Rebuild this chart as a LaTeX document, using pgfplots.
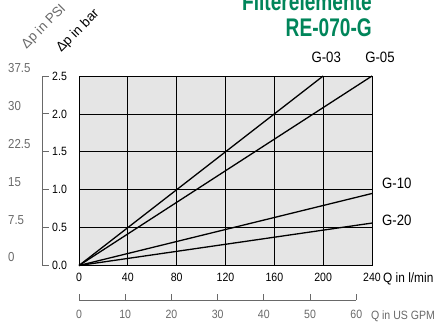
\documentclass[border=0pt]{standalone}
\usepackage{pgfplots}
\pgfplotsset{compat=1.18}
\usepackage{fontspec}
\setmainfont{Liberation Sans}[FakeStretch=0.88]
\newfontfamily\titlefont{Liberation Sans}[FakeStretch=0.75]
\newfontfamily\plainfont{Liberation Sans}
\definecolor{titlegreen}{RGB}{0,133,90}
\definecolor{scalegray}{RGB}{105,105,105}

\begin{document}
\begin{tikzpicture}[x=1pt,y=1pt]
\useasboundingbox (0,0) rectangle (441,327);

% title
\node[anchor=base east, inner sep=0pt, text=titlegreen, font=\titlefont\bfseries\fontsize{25.5}{28}\selectfont] at (372,316) {Filterelemente};
\node[anchor=base east, inner sep=0pt, text=titlegreen, font=\titlefont\bfseries\fontsize{25.5}{28}\selectfont] at (372,290) {RE-070-G};

% axis captions
\node[anchor=center, inner sep=0pt, rotate=45, text=scalegray, font=\plainfont\fontsize{13.5}{15}\selectfont] at (44,300) {Δp in PSI};
\node[anchor=center, inner sep=0pt, rotate=45, font=\plainfont\fontsize{13.5}{15}\selectfont] at (78,296) {Δp in bar};

% pressure drop in bar over flow in l/min
\begin{axis}[
  at={(79pt,61.5pt)}, anchor=south west,
  width=293pt, height=189.5pt, scale only axis,
  xmin=0, xmax=240, ymin=0, ymax=2.5,
  xtick={0,40,...,240}, ytick={0,0.5,1,1.5,2,2.5},
  grid=major, grid style={black, line width=0.8pt},
  axis line style={black, line width=0.8pt},
  major tick length=0pt,
  axis background/.style={fill=gray!20},
  tick label style={font=\fontsize{12}{14}\selectfont},
  /pgf/number format/assume math mode=true,
  yticklabel style={/pgf/number format/.cd, fixed, fixed zerofill, precision=1, /tikz/.cd,
                    anchor=west, inner sep=0pt, xshift=-27pt},
  xticklabel style={yshift=-4pt},
  clip=false,
]
\addplot[black, line width=1.3pt] coordinates {(0,0) (200,2.5)};
\addplot[black, line width=1.3pt] coordinates {(0,0) (240,2.5)};
\addplot[black, line width=1.3pt] coordinates {(0,0) (240,0.95)};
\addplot[black, line width=1.3pt] coordinates {(0,0) (240,0.56)};

\node[anchor=base, inner sep=0pt, font=\fontsize{15}{17}\selectfont] at (axis cs:202.5,2.5) [yshift=13.3pt] {G-03};
\node[anchor=base, inner sep=0pt, font=\fontsize{15}{17}\selectfont] at (axis cs:246.5,2.5) [yshift=13.3pt] {G-05};
\node[anchor=base west, inner sep=0pt, font=\fontsize{15}{17}\selectfont] at (axis cs:240,0) [xshift=10pt, yshift=77.2pt] {G-10};
\node[anchor=base west, inner sep=0pt, font=\fontsize{15}{17}\selectfont] at (axis cs:240,0) [xshift=10pt, yshift=40.2pt] {G-20};
\node[anchor=base west, inner sep=0pt, font=\fontsize{13.5}{15}\selectfont] at (axis cs:240,0) [xshift=11pt, yshift=-17pt] {Q in l/min};
\end{axis}

% pressure drop scale in PSI
\begin{axis}[
  at={(43pt,61.5pt)}, anchor=south west,
  width=10pt, height=189.5pt, scale only axis,
  xmin=0, xmax=1, ymin=0, ymax=37.5,
  ytick={0,7.5,15,22.5,30,37.5},
  axis y line*=left, hide x axis,
  axis line style={scalegray, line width=1pt},
  major tick style={scalegray, line width=1pt},
  tick align=inside, major tick length=5.5pt,
  /pgf/number format/assume math mode=true,
  yticklabel style={anchor=west, inner sep=0pt, xshift=-35pt, yshift=8pt,
                    text=scalegray, font=\fontsize{13}{15}\selectfont},
]
\end{axis}

% flow scale in US GPM
\begin{axis}[
  at={(79pt,27pt)}, anchor=south west,
  width=277.3pt, height=10pt, scale only axis,
  xmin=0, xmax=60, ymin=0, ymax=1,
  xtick={0,10,...,60},
  axis x line*=bottom, hide y axis,
  axis line style={scalegray, line width=1pt},
  major tick style={scalegray, line width=1pt},
  tick align=inside, major tick length=6.5pt,
  /pgf/number format/assume math mode=true,
  xticklabel style={yshift=-7pt, text=scalegray, font=\fontsize{12}{14}\selectfont},
  clip=false,
]
\node[anchor=base west, inner sep=0pt, text=scalegray, font=\fontsize{12}{14}\selectfont] at (axis cs:60,0) [xshift=14.5pt, yshift=-19.5pt] {Q in US GPM};
\end{axis}
\end{tikzpicture}
\end{document}
